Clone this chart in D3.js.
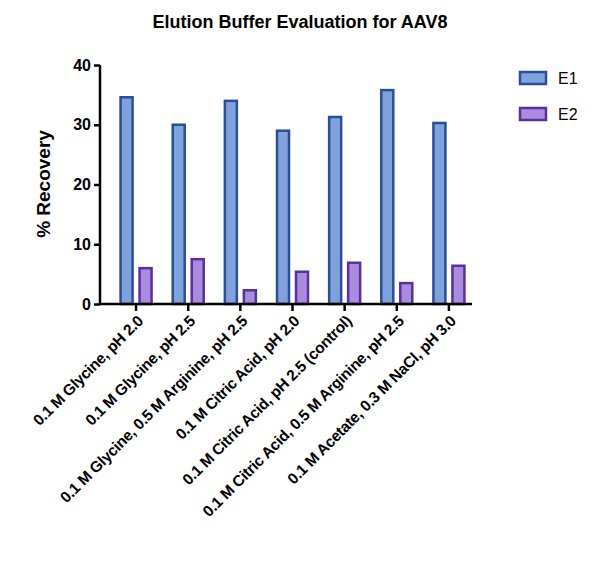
<!DOCTYPE html>
<html><head><script src="https://cdn.jsdelivr.net/npm/d3@7"></script>
<style>body{margin:0;background:#fff}</style></head><body>
<script>
const categories=["0.1 M Glycine, pH 2.0","0.1 M Glycine, pH 2.5","0.1 M Glycine, 0.5 M Arginine, pH 2.5","0.1 M Citric Acid, pH 2.0","0.1 M Citric Acid, pH 2.5 (control)","0.1 M Citric Acid, 0.5 M Arginine, pH 2.5","0.1 M Acetate, 0.3 M NaCl, pH 3.0"];
const E1=[34.6,30.0,34.0,29.0,31.3,35.8,30.3];
const E2=[6.0,7.5,2.3,5.4,6.9,3.5,6.4];
const yTicks=[0,10,20,30,40];
const series=[{name:"E1",values:E1,fill:"#7ea3dc",stroke:"#2a4e98"},{name:"E2",values:E2,fill:"#a98be0",stroke:"#5a2f9e"}];
const W=595,H=573;
const svg=d3.select("body").append("svg").attr("width",W).attr("height",H).style("font-family","Arial, Liberation Sans, sans-serif");
const x=d3.scaleBand().domain(categories).range([110,475]);
const y=d3.scaleLinear().domain([0,40]).range([304,65]);
const bw=12,gap=7;
series.forEach((s,i)=>{
 svg.selectAll(null).data(s.values).enter().append("rect")
 .attr("x",(d,j)=>x(categories[j])+x.bandwidth()/2+(i===0?-(bw+gap/2):gap/2))
 .attr("y",d=>y(d)).attr("width",bw).attr("height",d=>y(0)-y(d))
 .attr("fill",s.fill).attr("stroke",s.stroke).attr("stroke-width",2.5);
});
const ya=svg.append("g").attr("transform","translate(100,0)").call(d3.axisLeft(y).tickValues(yTicks).tickSize(6));
ya.select(".domain").attr("stroke-width",2.5).attr("d","M-0,65H0V304H0");
ya.selectAll(".tick line").attr("stroke-width",2.5);
ya.selectAll("text").attr("font-size",16).attr("font-weight","bold").attr("fill","#000");
const xa=svg.append("g").attr("transform","translate(0,304)").call(d3.axisBottom(x).tickSize(7));
xa.select(".domain").attr("stroke-width",2.5).attr("d","M100,0H472");
xa.selectAll(".tick line").attr("stroke-width",2.5);
xa.selectAll("text").attr("font-size",15.5).attr("font-weight","bold").attr("fill","#000").attr("letter-spacing",-0.3)
 .attr("text-anchor","end").attr("dy",0).attr("y",0).attr("transform","translate(8,18) rotate(-45)");
svg.append("text").attr("x",300).attr("y",28).attr("text-anchor","middle").attr("font-size",18).attr("font-weight","bold").text("Elution Buffer Evaluation for AAV8");
svg.append("text").attr("transform","translate(50,184) rotate(-90)").attr("text-anchor","middle").attr("font-size",19).attr("font-weight","bold").text("% Recovery");
series.forEach((s,i)=>{
 const yy=72+i*36;
 svg.append("rect").attr("x",520).attr("y",yy).attr("width",26).attr("height",12).attr("fill",s.fill).attr("stroke",s.stroke).attr("stroke-width",2.5);
 svg.append("text").attr("x",558).attr("y",yy+12).attr("font-size",16).text(s.name);
});
</script></body></html>
